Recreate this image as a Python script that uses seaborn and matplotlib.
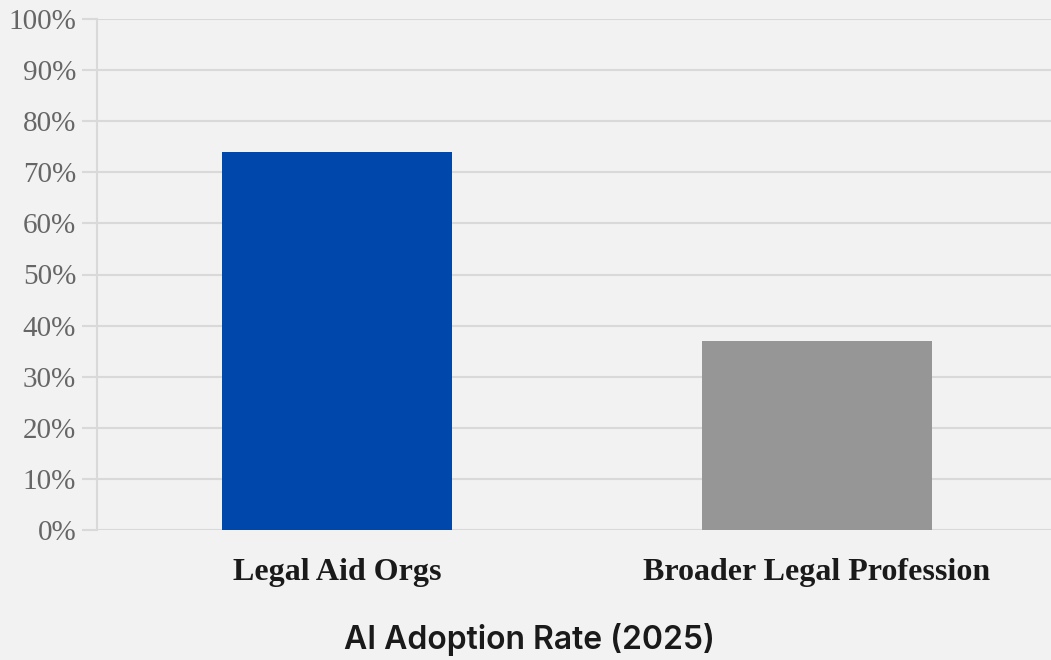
import matplotlib
matplotlib.use("Agg")
import matplotlib.pyplot as plt
import seaborn as sns
import pandas as pd
from matplotlib.ticker import FuncFormatter

categories = ["Legal Aid Orgs", "Broader Legal Profession"]
adoption = [74, 37]
colors = ["#0047AB", "#969696"]
title = "AI Adoption Rate (2025)"

df = pd.DataFrame({"cat": categories, "val": adoption})

sns.set_theme(style="white")
bg = "#f2f2f2"
fig = plt.figure(figsize=(10.51, 6.6), dpi=100, facecolor=bg)
ax = fig.add_axes([97/1051, (660-530)/660, (1057-97)/1051, (530-19)/660])
ax.set_facecolor(bg)

sns.barplot(data=df, x="cat", y="val", hue="cat", palette=colors, width=0.48,
            saturation=1, legend=False, ax=ax, zorder=3, linewidth=0)

ax.set_xlim(-0.5, 1.5)
ax.set_ylim(0, 100)
ax.set_yticks(range(0, 101, 10))
ax.yaxis.set_major_formatter(FuncFormatter(lambda v, p: f"{int(v)}%"))
ax.grid(axis="y", color="#d9d9d9", linewidth=1.5, zorder=0)
ax.set_axisbelow(True)
for s in ["top", "right", "bottom"]:
    ax.spines[s].set_visible(False)
ax.spines["left"].set_color("#d9d9d9")
ax.spines["left"].set_linewidth(1.5)
ax.tick_params(axis="y", left=True, length=11, width=1.5, color="#d9d9d9", pad=4,
               labelsize=21, labelcolor="#666666")
ax.tick_params(axis="x", bottom=False, pad=14)
for lbl in ax.get_yticklabels():
    lbl.set_fontfamily("Liberation Serif")
for lbl in ax.get_xticklabels():
    lbl.set_fontfamily("Liberation Serif")
    lbl.set_fontweight("bold")
    lbl.set_fontsize(23)
    lbl.set_color("#1a1a1a")
ax.set_xlabel("")
ax.set_ylabel("")

fig.text(529/1051, 1 - 640/660, title, ha="center", va="center",
         fontsize=23, fontweight="semibold", family="Inter", color="#1a1a1a")

fig.savefig("out.png", dpi=100, facecolor=bg)
